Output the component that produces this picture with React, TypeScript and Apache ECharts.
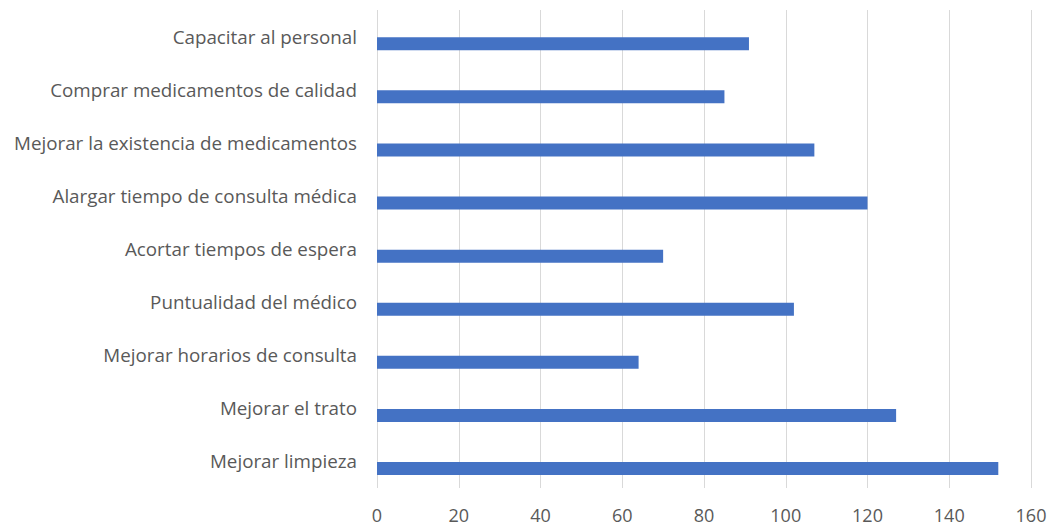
import React, { useEffect, useRef } from "react";
import * as echarts from "echarts";

const categories = [
  "Mejorar limpieza",
  "Mejorar el trato",
  "Mejorar horarios de consulta",
  "Puntualidad del médico",
  "Acortar tiempos de espera",
  "Alargar tiempo de consulta médica",
  "Mejorar la existencia de medicamentos",
  "Comprar medicamentos de calidad",
  "Capacitar al personal",
];
const values = [152, 127, 64, 102, 70, 120, 107, 85, 91];
const xMin = 0;
const xMax = 160;
const xInterval = 20;

export default function App() {
  const ref = useRef<HTMLDivElement>(null);
  useEffect(() => {
    if (!ref.current) return;
    const chart = echarts.init(ref.current, null, { renderer: "svg" });
    chart.setOption({
      animation: false,
      grid: { left: 377, right: 26, top: 10, bottom: 41, containLabel: false },
      xAxis: {
        type: "value",
        min: xMin,
        max: xMax,
        interval: xInterval,
        axisLine: { show: false },
        axisTick: { show: false },
        splitLine: { show: true, lineStyle: { color: "#D9D9D9", width: 1 } },
        axisLabel: {
          color: "#595959",
          fontFamily: "Open Sans",
          fontSize: 18,
          margin: 18,
        },
      },
      yAxis: {
        type: "category",
        data: categories,
        axisLine: { show: false },
        axisTick: { show: false },
        axisLabel: {
          color: "#595959",
          fontFamily: "Open Sans",
          fontSize: 18.8,
          margin: 20,
        },
      },
      series: [
        {
          type: "bar",
          data: [],
          barWidth: 13,
          barGap: "10%",
          silent: true,
        },
        {
          type: "bar",
          data: values,
          barWidth: 13,
          barGap: "10%",
          itemStyle: { color: "#4472C4" },
        },
      ],
    });
    return () => chart.dispose();
  }, []);
  return (
    <div
      ref={ref}
      style={{ position: "fixed", left: 0, top: 0, width: 1057, height: 529, background: "#fff" }}
    />
  );
}
